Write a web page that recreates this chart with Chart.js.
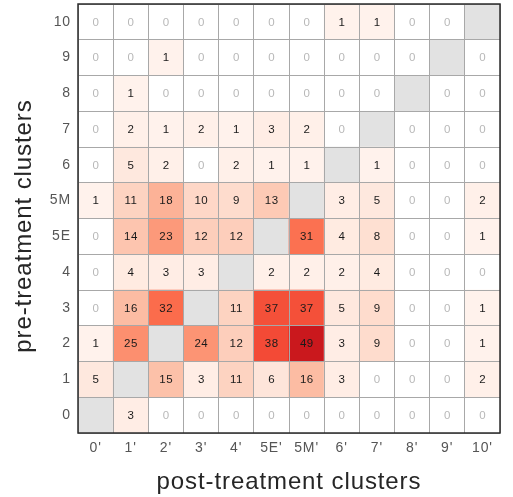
<!DOCTYPE html>
<html><head><meta charset="utf-8">
<script src="https://cdn.jsdelivr.net/npm/chart.js@4"></script>
<style>html,body{margin:0;padding:0;background:#fff;overflow:hidden}#wrap{width:513px;height:497px}</style>
</head><body><div id="wrap"><canvas id="c" width="513" height="497"></canvas></div>
<script>
// post-treatment clusters (x axis)
const colLabels = ["0'","1'","2'","3'","4'","5E'","5M'","6'","7'","8'","9'","10'"];
// pre-treatment clusters (y axis), bottom to top
const rowLabels = ["0","1","2","3","4","5E","5M","6","7","8","9","10"];
// counts per pre-treatment cluster (null = diagonal, shown gray)
const row_0  = [null,3,0,0,0,0,0,0,0,0,0,0];
const row_1  = [5,null,15,3,11,6,16,3,0,0,0,2];
const row_2  = [1,25,null,24,12,38,49,3,9,0,0,1];
const row_3  = [0,16,32,null,11,37,37,5,9,0,0,1];
const row_4  = [0,4,3,3,null,2,2,2,4,0,0,0];
const row_5E = [0,14,23,12,12,null,31,4,8,0,0,1];
const row_5M = [1,11,18,10,9,13,null,3,5,0,0,2];
const row_6  = [0,5,2,0,2,1,1,null,1,0,0,0];
const row_7  = [0,2,1,2,1,3,2,0,null,0,0,0];
const row_8  = [0,1,0,0,0,0,0,0,0,null,0,0];
const row_9  = [0,0,1,0,0,0,0,0,0,0,null,0];
const row_10 = [0,0,0,0,0,0,0,1,1,0,0,null];
const rows = [row_0,row_1,row_2,row_3,row_4,row_5E,row_5M,row_6,row_7,row_8,row_9,row_10];

const VMAX = 65;
const REDS = [[255,245,240],[254,224,210],[252,187,161],[252,146,114],[251,106,74],[239,59,44],[203,24,29],[165,15,21],[103,0,13]];
function reds(v){
  let t = Math.max(0, Math.min(1, v / VMAX)) * (REDS.length - 1);
  const i = Math.min(REDS.length - 2, Math.floor(t)); const f = t - i;
  const a = REDS[i], b = REDS[i+1];
  const c = a.map((x,k)=>Math.round(x + (b[k]-x)*f));
  return `rgb(${c[0]},${c[1]},${c[2]})`;
}
function cellColor(v){ return v === null ? '#e2e2e2' : (v === 0 ? '#ffffff' : reds(v)); }

const datasets = rows.map((vals, r) => ({
  label: rowLabels[r],
  data: colLabels.map(() => [r, r + 1]),
  counts: vals,
  backgroundColor: vals.map(cellColor),
  borderWidth: 0,
  grouped: false,
  barPercentage: 1,
  categoryPercentage: 1
}));

const textSpacing = {
  id: 'textSpacing',
  beforeDraw(chart){ chart.ctx.letterSpacing = '0.9px'; }
};

const cellText = {
  id: 'cellText',
  afterDraw(chart){
    const ctx = chart.ctx;
    ctx.save();
    ctx.letterSpacing = '0.5px';
    ctx.font = '11.5px "Liberation Sans", Arial, sans-serif';
    ctx.textAlign = 'center';
    ctx.textBaseline = 'middle';
    chart.data.datasets.forEach((ds, di) => {
      const meta = chart.getDatasetMeta(di);
      meta.data.forEach((el, i) => {
        const v = ds.counts[i];
        if (v === null) return;
        ctx.fillStyle = v === 0 ? '#b8b8b8' : '#1a1a1a';
        ctx.fillText(String(v), el.x + 0.25, (el.y + el.base) / 2 + 0.5);
      });
    });
    const a = chart.chartArea;
    ctx.strokeStyle = '#2b2b2b';
    ctx.lineWidth = 1.5;
    ctx.strokeRect(a.left, a.top, a.right - a.left, a.bottom - a.top);
    ctx.restore();
    ctx.letterSpacing = '0px';
  }
};

const tickFont = {family: '"Liberation Sans", Arial, sans-serif', size: 14};
const titleFont = {family: '"Liberation Sans", Arial, sans-serif', size: 24};

new Chart(document.getElementById('c'), {
  type: 'bar',
  data: { labels: colLabels, datasets },
  plugins: [textSpacing, cellText],
  options: {
    responsive: false,
    animation: false,
    layout: { padding: { top: 4, right: 13, left: 0, bottom: 0 } },
    plugins: { legend: { display: false }, tooltip: { enabled: false } },
    scales: {
      x: {
        type: 'category',
        offset: true,
        grid: { offset: true, color: '#a8a8a8', lineWidth: 1, drawTicks: false, z: 1 },
        border: { display: false },
        ticks: { font: tickFont, color: '#555555', padding: 7, maxRotation: 0, autoSkip: false },
        title: { display: true, text: 'post-treatment clusters', font: titleFont, color: '#262626', padding: { top: 0, bottom: 0 } },
        afterFit(s){ s.height = 64; s.paddingLeft = 0; s.paddingRight = 0; }
      },
      y: {
        type: 'linear',
        min: 0, max: 12,
        grid: { color: '#a8a8a8', lineWidth: 1, drawTicks: false, z: 1 },
        border: { display: false },
        ticks: {
          stepSize: 1, autoSkip: false, font: tickFont, color: '#555555', padding: 7,
          labelOffset: -17.875,
          callback: (v) => rowLabels[v] !== undefined ? rowLabels[v] : ''
        },
        title: { display: true, text: 'pre-treatment clusters  ', font: titleFont, color: '#262626', padding: { top: 10, bottom: 0 } },
        afterFit(s){ s.width = 78; s.paddingTop = 0; s.paddingBottom = 0; }
      }
    }
  }
});
</script>
</body></html>
